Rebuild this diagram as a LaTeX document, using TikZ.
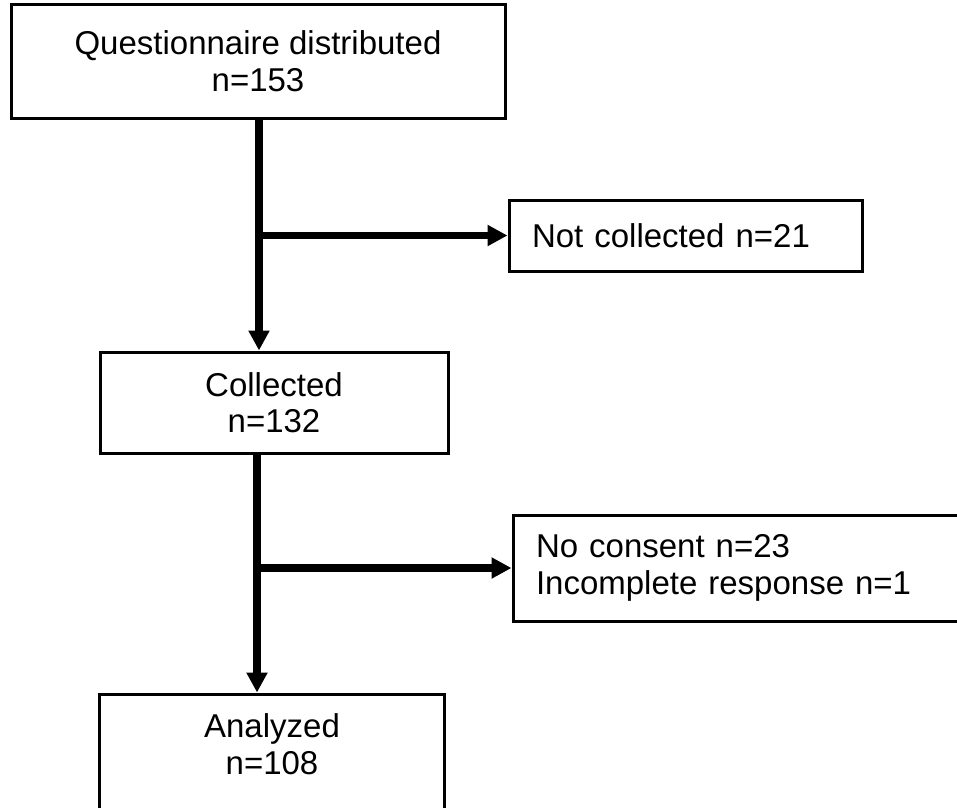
\documentclass[tikz,border=0pt]{standalone}
\usepackage{fontspec}
\setmainfont{Liberation Sans}
\usetikzlibrary{positioning, arrows.meta}

\begin{document}
\begin{tikzpicture}[
    x=1pt, y=-1pt,
    block/.style={rectangle, draw, line width=3pt, align=center, inner ysep=20pt, font=\fontsize{33}{36.5}\selectfont},
    side/.style={rectangle, draw, line width=3pt, align=left, inner xsep=23pt, inner ysep=0pt, font=\fontsize{33}{37}\selectfont},
    arrow/.style={-{Triangle[length=20pt, width=20pt]}, line width=7.5pt}
]
\useasboundingbox (0,0) rectangle (957,807);

% Boîtes principales, de haut en bas
\node[block, minimum width=494pt, minimum height=114pt] (distrib) at (258,61) {Questionnaire distributed\\n=153};
\node[block, minimum width=348pt, minimum height=101pt, below=231pt of distrib, xshift=16pt] (collected) {Collected\\n=132};
\node[block, minimum width=345pt, text depth=50pt, below=238pt of collected, xshift=-2pt] (analyzed) {Analyzed\\n=108};

% Boîtes des exclusions
\node[side, text width=307pt, minimum height=71pt, below right=79pt and 1pt of distrib.south east] (notcollected) {Not collected n=21};
\node[side, text width=420pt, minimum height=106pt, below right=59pt and 62pt of collected.south east] (excluded) {No consent n=23\\Incomplete response n=1};

% Arrows
\coordinate (spine1) at ([xshift=1pt]distrib.south);
\coordinate (spine2) at ([xshift=-17pt]collected.south);
\draw[arrow] (spine1) -- (spine1 |- collected.north);
\draw[arrow] (spine1 |- notcollected.west) -- (notcollected.west);
\draw[arrow] (spine2) -- (spine2 |- analyzed.north);
\draw[arrow] (spine2 |- excluded.west) -- (excluded.west);

\end{tikzpicture}
\end{document}
